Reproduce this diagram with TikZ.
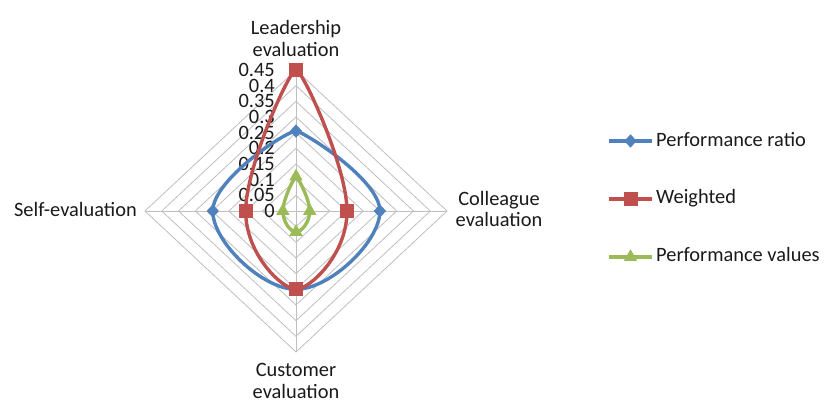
\documentclass[tikz,border=0pt]{standalone}
\usepackage{fontspec}
\setmainfont{Carlito}
\usetikzlibrary{shapes.geometric}
\definecolor{serblue}{HTML}{4F81BD}
\definecolor{serred}{HTML}{C0504D}
\definecolor{sergreen}{HTML}{9BBB59}
\definecolor{gridgray}{HTML}{BFBFBF}
\definecolor{txt}{HTML}{1A1A1A}
\begin{document}
\begin{tikzpicture}[x=1pt,y=1pt,
  font=\fontsize{20.4}{24}\selectfont,
  gridline/.style={draw=gridgray, line width=0.8pt},
  serline/.style={line width=3.4pt, line join=round, line cap=round},
  bmark/.style={diamond, fill=serblue, inner sep=0pt, minimum width=12.5pt, minimum height=13.5pt},
  rmark/.style={rectangle, fill=serred, inner sep=0pt, minimum size=14pt},
  gmark/.style={regular polygon, regular polygon sides=3, fill=sergreen, inner sep=0pt, minimum size=15.5pt},
  lbl/.style={inner sep=0pt, text=txt}]
\useasboundingbox (0,0) rectangle (827,406);
\fill[white] (0,0) rectangle (827,406);

\begin{scope}[shift={(296pt,195pt)}, x=335.6pt, y=313.3pt]
  % grid rings
  \foreach \k in {1,...,9}{
    \pgfmathsetmacro\r{0.05*\k}
    \draw[gridline] (\r,0) -- (0,\r) -- (-\r,0) -- (0,-\r) -- cycle;
  }
  \coordinate (O) at (0,0);
  \coordinate (aT) at (0,0.45);
  \coordinate (aR) at (0.45,0);
  \coordinate (aB) at (0,-0.45);
  \coordinate (aL) at (-0.45,0);
  \draw[gridline] (O) -- (aT);
  \draw[gridline] (O) -- (aR);
  \draw[gridline] (O) -- (aB);
  \draw[gridline] (O) -- (aL);

  % tick labels
  \foreach \v/\t [count=\i] in {0/0, 0.05/0.05, 0.1/0.1, 0.15/0.15, 0.2/0.2, 0.25/0.25, 0.3/0.3, 0.35/0.35, 0.4/0.4, 0.45/0.45}{
    \node[lbl, anchor=east, xshift=-21pt] (tick\i) at (0,\v) {\t};
  }

  % Performance ratio (blue)
  \coordinate (bT) at (0,0.255);
  \coordinate (bR) at (0.25,0);
  \coordinate (bB) at (0,-0.25);
  \coordinate (bL) at (-0.248,0);
  \draw[serline, serblue] (bT) .. controls +(0.02,0) and +(0,0.1) .. (bR)
     .. controls +(0,-0.1) and +(0.1,0) .. (bB)
     .. controls +(-0.1,0) and +(0,-0.1) .. (bL)
     .. controls +(0,0.1) and +(-0.03,0) .. (bT);
  \foreach \p in {bT,bR,bB,bL}{ \node[bmark] (m\p) at (\p) {}; }

  % Weighted (red)
  \coordinate (rT) at (0,0.45);
  \coordinate (rR) at (0.152,0);
  \coordinate (rB) at (0,-0.25);
  \coordinate (rL) at (-0.15,0);
  \draw[serline, serred] (rT) .. controls +(0.02,0) and +(0,0.14) .. (rR)
     .. controls +(0,-0.14) and +(0.04,0) .. (rB)
     .. controls +(-0.04,0) and +(0,-0.14) .. (rL)
     .. controls +(0,0.14) and +(-0.02,0) .. (rT);
  \foreach \p in {rT,rR,rB,rL}{ \node[rmark] (m\p) at (\p) {}; }

  % Performance values (green)
  \coordinate (gT) at (0,0.11);
  \coordinate (gR) at (0.041,0);
  \coordinate (gB) at (0,-0.067);
  \coordinate (gL) at (-0.039,0);
  \draw[serline, sergreen] (gT) .. controls +(0.005,0) and +(0,0.036) .. (gR)
     .. controls +(0,-0.036) and +(0.016,0) .. (gB)
     .. controls +(-0.016,0) and +(0,-0.036) .. (gL)
     .. controls +(0,0.036) and +(-0.005,0) .. (gT);
  \foreach \p in {gT,gR,gB,gL}{ \node[gmark] (m\p) at (\p) {}; }
\end{scope}

% axis labels
\node[lbl, anchor=base] (lead1) at (296,371) {Leadership};
\node[lbl, anchor=base] (lead2) at (296,349) {evaluation};
\node[lbl, anchor=base] (col1) at (499,200) {Colleague};
\node[lbl, anchor=base] (col2) at (499,179) {evaluation};
\node[lbl, anchor=base] (cus1) at (296,29) {Customer};
\node[lbl, anchor=base] (cus2) at (296,7) {evaluation};
\node[lbl, anchor=base east] (self) at (137,189) {Self-evaluation};

% legend
\coordinate (lb1) at (609,265); \coordinate (lb2) at (652,265); \coordinate (lbm) at (630.5,265);
\coordinate (lr1) at (609,207); \coordinate (lr2) at (652,207); \coordinate (lrm) at (630.5,207);
\coordinate (lg1) at (609,149); \coordinate (lg2) at (652,149); \coordinate (lgm) at (630.5,149);
\draw[serline, serblue, line cap=butt] (lb1) -- (lb2);
\node[bmark] (legb) at (lbm) {};
\draw[serline, serred, line cap=butt] (lr1) -- (lr2);
\node[rmark] (legr) at (lrm) {};
\draw[serline, sergreen, line cap=butt] (lg1) -- (lg2);
\node[gmark] (legg) at (lgm) {};
\node[lbl, anchor=base west] (legbt) at (656,259) {Performance ratio};
\node[lbl, anchor=base west] (legrt) at (656,202) {Weighted};
\node[lbl, anchor=base west] (leggt) at (656,144) {Performance values};
\end{tikzpicture}
\end{document}
